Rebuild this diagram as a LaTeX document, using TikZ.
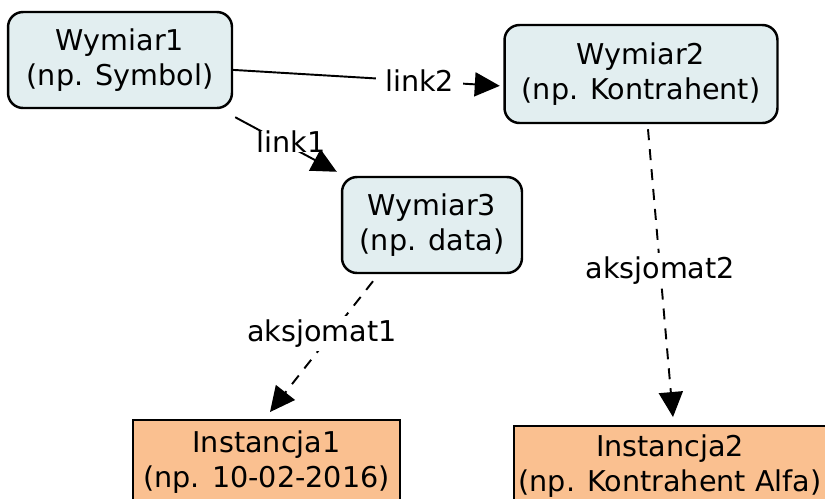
\documentclass[tikz,border=0pt]{standalone}
\usepackage{fontspec}
\setmainfont{DejaVu Sans}
\usetikzlibrary{arrows.meta}
\usepackage{xcolor}
\definecolor{wymiarfill}{HTML}{E2EEF0}
\definecolor{instfill}{HTML}{FAC090}

\begin{document}
\begin{tikzpicture}[x=0.02cm,y=-0.02cm,>={Triangle[length=0.5cm,width=0.48cm]},
  font=\fontsize{16.3}{19.5}\selectfont,
  wymiar/.style={draw,line width=1.4pt,rounded corners=0.3cm,fill=wymiarfill,align=center,inner sep=0pt},
  inst/.style={draw,line width=1.1pt,fill=instfill,align=center,inner sep=0pt},
  lbl/.style={fill=white,inner xsep=5pt,inner ysep=2pt},
  link/.style={->,line width=1.1pt},
  aks/.style={->,line width=1.1pt,dash pattern=on 0.22cm off 0.18cm}]
\useasboundingbox (0,0) rectangle (825,498);
% wymiary
\node[wymiar,minimum width=4.48cm,minimum height=1.92cm] (w1) at (120,60) {Wymiar1\\(np. Symbol)};
\node[wymiar,minimum width=5.46cm,minimum height=1.96cm] (w2) at (641,74) {Wymiar2\\(np. Kontrahent)};
\node[wymiar,minimum width=3.6cm,minimum height=1.92cm] (w3) at (432,225) {Wymiar3\\(np. data)};
% instancje
\node[inst,minimum width=5.34cm,minimum height=1.68cm] (i1) at (266.5,462) {Instancja1\\(np. 10-02-2016)};
\node[inst,minimum width=6.24cm,minimum height=1.6cm] (i2) at (670,466) {Instancja2\\(np. Kontrahent Alfa)};
% polaczenia
\draw[link,shorten >=2pt] (w1.-5) -- (w2.185) node[lbl,pos=0.69]{link2};
\draw[link] ([xshift=0.04cm,yshift=-0.16cm]w1.south east) -- ([xshift=-0.08cm,yshift=0.08cm]w3.north west)
  node[lbl,pos=0.5,inner xsep=4pt,inner ysep=0pt,xshift=0.1cm,yshift=0.06cm]{link1};
\draw[aks] ([xshift=-1.18cm,yshift=-0.14cm]w3.south) -- ([xshift=0.07cm,yshift=0.14cm]i1.north)
  node[lbl,pos=0.4,xshift=-0.2cm]{aksjomat1};
\draw[aks] ([xshift=0.14cm,yshift=-0.1cm]w2.south) -- ([xshift=0.06cm,yshift=0.16cm]i2.north)
  node[lbl,pos=0.49]{aksjomat2};
\end{tikzpicture}
\end{document}
